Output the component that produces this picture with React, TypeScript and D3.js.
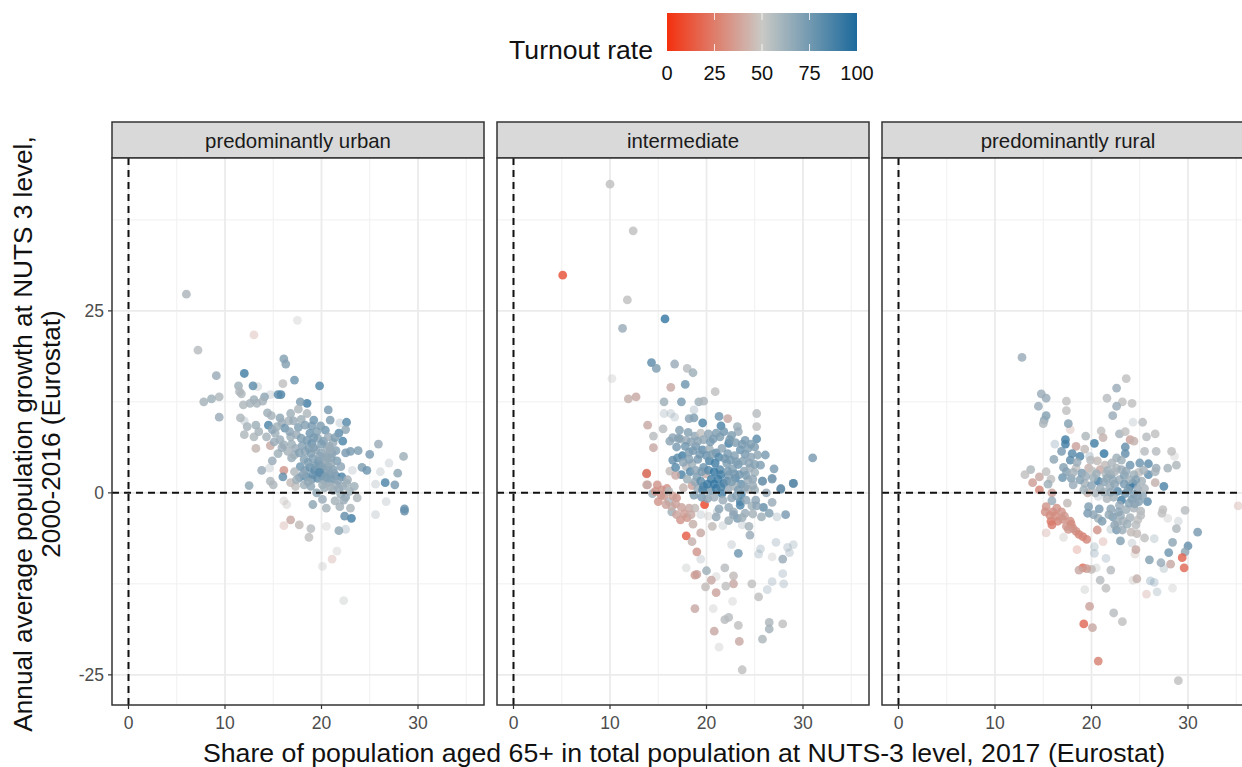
import React from "react";
import * as d3 from "d3";

type P = [number, number, number];

const panelNames = ["predominantly urban", "intermediate", "predominantly rural"];
const xTicks = [0, 10, 20, 30];
const xMinor = [5, 15, 25, 35];
const yTicks = [-25, 0, 25];
const yMinor = [-12.5, 12.5, 37.5];
const legendTicks = [0, 25, 50, 75, 100];

const urbanSolid: P[] = [
  [6, 27.3, 56], [7.2, 19.6, 52], [9.1, 16.1, 62], [12, 16.4, 88], [16.1, 18.4, 68], [16.3, 17.7, 68], [17.2, 15.5, 75], [19.8, 14.7, 85],
  [12.9, 14.7, 80], [11.4, 14.7, 60], [16, 15, 50], [11.7, 13.6, 55], [11.5, 13.9, 55], [9.4, 13.2, 55], [8.6, 12.9, 60], [7.8, 12.5, 58],
  [14.1, 13.2, 65], [15.8, 13.5, 85], [15.5, 13.5, 82], [13, 12.8, 60], [12.6, 12.3, 58], [11.9, 12.1, 55], [13.3, 12.3, 58], [18.5, 12.3, 88],
  [17.8, 12.5, 70], [17.6, 11.5, 55], [18.5, 10.9, 55], [16.8, 10.9, 60], [20.7, 11.4, 72], [14.4, 11, 60], [9.4, 10.4, 62], [11.6, 10.3, 55],
  [19.2, 10, 75], [20.9, 10, 70], [22.6, 9.7, 82], [22.5, 8.7, 65], [13.2, 9.3, 60], [14.5, 9.3, 85], [15.7, 10.3, 65], [15.9, 9.6, 62],
  [17.6, 9, 70], [16.2, 8.9, 75], [12, 8, 55], [13, 7.7, 55], [13.5, 8.4, 58], [14.3, 7.7, 58], [15.2, 8.2, 60], [15.7, 7.3, 62], [16.8, 7.7, 60],
  [16.1, 6.6, 60], [13.2, 6.1, 46], [14.7, 6.5, 42], [21.8, 8.2, 80], [22.2, 7.1, 85], [20.4, 8.6, 75], [18.8, 8.2, 75], [19.5, 8.4, 68],
  [25.9, 6.7, 62], [23.8, 5.8, 70], [23, 5.7, 72], [22.5, 5.5, 72], [25, 5.3, 72], [28.5, 5, 60], [24.2, 3.5, 70], [24.7, 3.1, 75], [27.9, 2.7, 65],
  [26.6, 1.4, 85], [27.6, 1.1, 72], [23.4, 0.9, 60], [23.7, -0.7, 55], [28.6, -2.2, 78], [28.6, -2.5, 78], [23.1, -3.5, 88], [22.4, -3.2, 78],
  [23, -2.1, 55], [21.8, -5.2, 65], [18.9, -4.9, 52], [17.7, -4.4, 48], [16.8, -3.7, 42], [18.7, -6.1, 50], [19.1, -1.6, 65], [20.5, -2.1, 58],
  [21.9, -1.9, 58], [12.5, 1, 65], [13.8, 3.1, 62], [14.7, 1.6, 55], [15, 1.1, 55], [14.9, 4.4, 62], [15.5, 5.4, 60], [16.9, 4.8, 62], [16.1, 3.1, 35],
  [16, 2.2, 78], [17.3, 0.9, 50], [19.5, 0, 65], [17.2, 5.2, 60], [18, 6.5, 68], [18.5, 7.2, 72], [19, 6.8, 76], [19.6, 7.5, 66], [20.2, 7.1, 70],
  [20.8, 6.4, 65], [21.2, 6.9, 62], [21.5, 5.8, 68], [18.3, 5.7, 66], [18.9, 5.4, 70], [19.4, 5.9, 64], [20, 5.5, 66], [20.5, 5.1, 62], [21, 4.8, 66],
  [21.6, 4.4, 70], [22, 3.6, 66], [19.1, 4.7, 68], [19.7, 4.4, 72], [20.3, 4.1, 66], [20.7, 3.6, 62], [21.2, 3.2, 68], [17.8, 3.6, 75], [18.3, 3.1, 70],
  [18.8, 3.5, 76], [19.3, 3.1, 80], [19.9, 3.2, 70], [20.4, 2.8, 66], [20.9, 2.5, 74], [21.5, 2.3, 82], [22.1, 2.2, 85], [17.7, 2.1, 78], [18.4, 2.2, 80],
  [19, 1.9, 72], [19.6, 2, 78], [20.2, 1.8, 66], [20.8, 1.4, 68], [21.5, 1.1, 60], [22.2, 0.9, 62], [18.2, 1.1, 60], [18.9, 0.9, 65], [20.3, 0.7, 60],
  [21.2, 0.3, 62], [22, -0.2, 60], [22.5, -0.6, 66], [21.4, -1.1, 58], [20.1, -0.9, 62], [19.7, 3.9, 70], [20, 2.4, 72], [17.2, 2.9, 55], [16.8, 1.4, 48],
  [21.1, 5.4, 66], [20.6, 6.1, 60], [17.3, 6.1, 62], [16.5, 5.7, 58], [22.7, 1.8, 58], [22.9, 0.2, 60], [22.3, -1, 62],
  [13.9, 12.6, 58], [14.8, 10.6, 58], [12.3, 9.1, 58], [14.9, 8.7, 66], [15.4, 9.1, 60], [16.6, 9.9, 58], [17.1, 9.9, 62], [17.9, 10.1, 60], [18.3, 9.3, 68],
  [19, 9.2, 72], [19.9, 9.2, 70], [16.7, 8.4, 66], [17.4, 8, 62], [17.9, 7.5, 70], [18.7, 6.1, 70], [19.2, 7.6, 72], [20, 6.7, 70], [20.7, 7.7, 62], [21.4, 7.6, 70],
  [15.1, 7, 62], [15.9, 6.2, 62], [16.9, 6.7, 60], [17.7, 5.5, 68], [18.2, 4.6, 68], [18.6, 4.2, 70], [19.4, 3.7, 72], [20.1, 3.5, 68], [20.5, 4.6, 62], [21, 4, 64],
  [20.6, 3.1, 66], [21.3, 2.7, 66], [19.1, 2.5, 78], [19.8, 2.8, 82], [20.4, 2.2, 70], [21, 1.9, 70], [21.7, 1.7, 66], [20.6, 4.9, 64], [19.8, 5, 66], [20.9, 5.9, 62],
  [19.2, 6.2, 68], [18.1, 2.6, 66], [17.4, 1.8, 60], [18.6, 1.5, 64], [20.1, 1.1, 60], [20.9, 0.9, 58], [21.8, 0.6, 62], [22.6, 1.3, 60],
];
const urbanFaint: P[] = [
  [17.5, 23.7, 50], [13, 21.7, 38], [13.4, 14.6, 55], [14.7, 13.5, 55], [12, 9.9, 62], [21.9, 9.6, 60], [27, 4.1, 55], [26.1, 2.9, 55], [25.6, 1.2, 58],
  [26.7, -1.2, 56], [25.6, -3, 58], [22.5, -5, 65], [20.5, -4.6, 50], [16.1, -4.5, 38], [21.6, -8, 50], [21.1, -9.1, 38], [20.1, -10.1, 50], [22.3, -14.8, 52],
  [16.1, -1.1, 48], [16.4, -1.6, 48], [23.2, 3.1, 55], [14.6, 3.4, 56],
];

const midSolid: P[] = [
  [10, 42.4, 50], [12.4, 36, 50], [5.1, 29.9, 12], [11.8, 26.5, 50], [15.7, 23.9, 92], [11.3, 22.6, 62], [14.3, 17.9, 80], [14.8, 17.1, 70], [16.7, 17.7, 62],
  [18, 17.1, 52], [18.6, 16.5, 60], [17.8, 14.9, 75], [16.3, 14.5, 42], [20.9, 13.9, 50], [11.9, 12.9, 44], [12.7, 13.2, 42], [15.6, 12.5, 60], [17.4, 12.5, 72],
  [19.2, 12.5, 60], [19.7, 12.6, 56], [25.2, 10.9, 52], [25.2, 9.1, 50], [22.2, 10.2, 42], [23.2, 9.1, 60], [23.3, 8.4, 62], [21.3, 10.5, 75], [21.5, 9.2, 85],
  [19.6, 9.6, 85], [18.7, 10.3, 70], [18.2, 10.2, 66], [13.9, 9.3, 42], [15.5, 8.8, 52], [14.5, 7.8, 52], [14.5, 6.2, 42], [13.8, 2.7, 25], [13.9, 1.1, 42],
  [31, 4.8, 72], [26.1, 5.2, 72], [27, 3.3, 72], [26.8, 2, 72], [29, 1.3, 80], [27.7, 0.6, 72], [25.8, 1.6, 75], [25.2, 7.4, 80], [22.3, 6.8, 88], [23.5, 5.9, 75],
  [17.2, 8.6, 68], [17.9, 7.2, 62], [18.8, 7.8, 64], [19.4, 8.2, 50], [20.2, 8.1, 66], [20.7, 7.4, 72], [21.4, 7.7, 70], [22.6, 7.9, 70], [24, 7.2, 72], [24.6, 6.7, 70],
  [16.2, 7.1, 66], [16.9, 6.3, 72], [17.5, 5.1, 88], [16.5, 4.5, 78], [17, 4.8, 80], [18.2, 5.6, 70], [18.9, 6.4, 72], [19.6, 5.9, 80], [20.3, 6, 60], [21, 5.5, 78],
  [21.6, 6.1, 66], [22.2, 5.4, 72], [22.9, 5.1, 68], [24, 5.3, 72], [24.6, 4.9, 66], [25.3, 5.2, 65], [17.9, 3.6, 52], [18.5, 4, 60], [19.1, 4.6, 72], [19.7, 3.5, 75],
  [20.3, 4.4, 85], [20.9, 4.1, 88], [21.4, 3.2, 82], [22.1, 4.1, 70], [22.7, 3.3, 68], [23.3, 3.9, 74], [23.9, 3, 66], [24.5, 3.4, 62], [25, 2.8, 60], [17.4, 2.5, 86],
  [18.3, 2.9, 82], [19, 2.2, 70], [19.9, 2.6, 45], [20.5, 1.9, 88], [21.2, 1.9, 90], [21.8, 1.3, 90], [22.3, 2.4, 70], [23, 2, 84], [23.6, 1.2, 78], [24.3, 1.8, 62],
  [16.2, 3, 48], [16.8, 2.4, 42], [17.6, 0.7, 46], [18.5, 1, 40], [19.1, 0.6, 62], [19.7, 0.9, 85], [20.4, 0.3, 72], [21, 0.6, 90], [21.6, -0.1, 88], [22.2, 0.5, 62],
  [22.9, 0.9, 58], [23.6, -0.2, 85], [24.3, 0.5, 55], [25, 0.4, 60], [18.7, -0.3, 70], [19.6, 0.4, 85], [25.9, -2, 78], [28.2, -3, 72], [23.2, -3.5, 72], [22.3, -3.8, 60],
  [24.5, -5.8, 62], [24.4, -4.6, 58], [23.5, -1.2, 85], [23.5, -1.7, 85], [26.5, -2.8, 68], [25.7, -3.3, 60], [26.8, -1.3, 62], [26.2, 0, 62], [25.8, 1.6, 72], [26.8, 1.9, 72],
  [27.7, 0.5, 78], [29, 1.3, 80], [24.7, -1.8, 60], [22.3, -2, 64], [21.7, -1, 62], [22.8, -2.6, 60], [24, -2.8, 62], [25.1, -1, 66],
  [13.8, 2.6, 25], [13.8, 1.1, 42], [14.9, 1.1, 35], [15.4, 0.4, 35], [14.4, -0.1, 60], [15, -1.2, 35], [16.1, -1.2, 55], [16.9, -0.7, 35], [16.4, -2.6, 60], [17.3, -3.7, 35],
  [15.6, -0.4, 38], [16.4, -1.9, 44], [18.2, -2.1, 42], [18.8, -2.1, 48], [19.8, -1.6, 8], [17.9, -5.9, 15], [18.5, -6.7, 45], [19, -8.1, 35], [19.4, -5.5, 42], [20.6, -4.6, 48],
  [23.3, -8.3, 75], [27.9, -9.1, 62], [19, -11.2, 40], [18.8, -11.3, 38], [20, -10.7, 60], [21.9, -10.3, 52], [22.8, -11.4, 48], [22.8, -12.5, 42], [22, -12.8, 50],
  [20.5, -12, 42], [19.9, -12.9, 48], [21, -13.7, 40], [24.7, -12.5, 50], [25.4, -14.3, 50], [18.8, -15.9, 42], [21.9, -17.4, 52], [22.3, -17.1, 52], [23.3, -18.2, 50],
  [26.5, -17.8, 55], [26.5, -18.7, 58], [27.9, -18, 50], [20.8, -19, 42], [25.8, -20.1, 55], [23.4, -20.4, 42], [23.7, -24.3, 50],
  [16.5, 7.6, 66], [17.3, 7.4, 62], [18.1, 8.3, 68], [18.4, 7, 66], [19.1, 7.1, 66], [19.7, 7.3, 64], [20.4, 7, 72], [21, 8.2, 70], [21.8, 8.4, 74], [22.4, 7.3, 72], [23, 6.9, 70],
  [23.7, 6.7, 72], [24.3, 6.1, 70], [25, 6.3, 70], [17.1, 7.5, 68], [17.8, 6.4, 74], [18.6, 5.8, 72], [19.3, 5.3, 74], [20, 5.1, 76], [20.6, 5.3, 70], [21.3, 4.9, 82], [21.9, 4.7, 74],
  [22.5, 4.5, 72], [23.1, 4.3, 70], [23.8, 4.4, 68], [24.4, 4.1, 66], [25, 3.9, 68], [25.6, 3.8, 70], [16.8, 3.5, 82], [17.6, 4.2, 66], [18.2, 4.6, 68], [18.9, 3.1, 66], [19.5, 2.9, 72],
  [20.2, 3.1, 82], [20.8, 2.9, 92], [21.5, 2.5, 88], [22.2, 3, 72], [22.9, 2.6, 72], [23.4, 2.5, 74], [24.1, 2.4, 70], [24.8, 1.9, 64], [18, 1.9, 60], [18.8, 1.5, 64], [19.4, 1.6, 80],
  [20.1, 1.2, 90], [20.8, 1.2, 92], [21.5, 0.8, 86], [22.1, 1.6, 78], [22.6, 1.5, 70], [23.3, 0.4, 70], [24, 0.8, 66], [24.8, 1, 62], [19.5, -0.6, 72], [20.1, -0.8, 66], [20.8, -0.6, 62],
  [22.6, -0.7, 66], [23.1, -0.4, 68], [24.1, -1, 66], [25.2, -1.8, 66], [21.3, -2.2, 66], [21, -3.3, 64], [22.8, -3, 66], [23.7, -3.4, 60], [24.8, -2.9, 58], [15.9, 0.6, 34], [14.7, 0.2, 34],
  [15.3, -0.3, 36], [16.1, 0.2, 52], [16.5, -0.4, 38], [15.8, -1.6, 40], [16.8, -1.5, 40], [17.4, -2, 40], [17.7, -2.9, 38], [18, -3.4, 36], [18.4, -3, 42], [18.6, -4.3, 44], [16.9, -3, 40],
];
const midFaint: P[] = [
  [10.2, 15.7, 50], [15.6, 10.9, 60], [16.3, 10.9, 60], [16.7, 10.4, 60], [18.7, 11.4, 65], [19.4, -3, 55], [20.2, -3.2, 50], [21.7, -4.5, 55], [22.6, -7.1, 58],
  [25.6, -7.7, 65], [25.4, -8.4, 65], [26.8, -8.8, 50], [27.2, -6.8, 65], [29, -7.1, 62], [28.4, -7.5, 64], [28.6, -8.2, 64], [17.9, -10.3, 52], [19.4, -9.1, 56],
  [21, -11.5, 50], [26.3, -13.3, 65], [26.8, -12.2, 65], [28, -12.5, 65], [27.9, -11.1, 65], [22.7, -14.9, 50], [20.7, -15.9, 50], [21.3, -21.2, 50], [27.3, -3.3, 62],
  [23.7, -4.4, 56], [21.1, -2.6, 62],
];

const ruralSolid: P[] = [
  [12.8, 18.6, 62], [23.6, 15.7, 50], [22.6, 14.4, 62], [14.8, 13.6, 62], [15.3, 13, 62], [14.5, 11.9, 62], [17.4, 12.6, 50], [17.4, 11.3, 50], [21.6, 13, 52], [23.2, 12.5, 50],
  [24.2, 12.3, 50], [22.6, 11.9, 62], [22.2, 10.6, 62], [15.3, 10.6, 68], [15.1, 10, 65], [15, 9.5, 55], [17.6, 9.5, 68], [25.3, 9.7, 52], [21, 8.5, 50], [21.2, 7.6, 45],
  [22.9, 8.1, 58], [23.5, 8.4, 50], [25.7, 7.7, 52], [26.6, 8.1, 50], [19.4, 7.8, 55], [17.3, 7.3, 88], [17.3, 6.7, 88], [20.3, 6.8, 88], [18.4, 6.4, 40], [19.3, 6, 48],
  [16.9, 5.7, 72], [18, 5.4, 82], [18.8, 5, 85], [21.3, 5.4, 92], [23.5, 6.3, 78], [23.5, 5.4, 78], [24, 7.3, 40], [24.4, 7.1, 45], [25.5, 5.7, 52], [26.7, 5.7, 52], [28.3, 5.7, 50],
  [16.1, 4.6, 65], [28.8, 3.8, 55], [27.9, 3.4, 58], [25.9, 4, 80], [25, 4.1, 75], [26.7, 3.4, 62], [24, 3.8, 75], [22.6, 4.8, 60], [22.6, 3.4, 55], [19.7, 3.4, 45], [20.9, 3.2, 42],
  [21.4, 3.8, 48], [13.7, 3.2, 55], [13.1, 2.5, 50], [15.3, 2.9, 50], [14.6, 2.2, 42], [13.9, 1.4, 38], [15.8, 1.9, 50], [15.5, 1.2, 60], [14.6, 0.4, 30], [15.9, 0, 40],
  [17, 2.1, 75], [17.4, 2.9, 68], [17.9, 2, 68], [18.4, 3.4, 50], [19, 2.7, 72], [19.3, 1.3, 58], [20.7, 1.6, 88], [22, 2.5, 70], [22.9, 1.8, 62], [25.9, 2.5, 80], [26.6, 2.9, 58],
  [26.6, 1.4, 45], [27.5, 0.9, 85], [24.3, 1.3, 92], [24, 0.9, 88], [22.7, 0.2, 82], [19.6, 0, 45], [23.1, -1, 90], [24.2, -0.9, 72], [24.9, -1.2, 68], [25.8, -1.2, 80], [15.9, -1.1, 62],
  [17.5, -1.4, 48], [15.3, -1.9, 35], [16, -2.6, 32], [16.9, -2.6, 35], [15.8, -3.9, 25], [16.5, -3.9, 30], [17.8, -3.9, 33], [18.1, -4.9, 33], [17.4, -4.6, 35], [19.1, -6, 28], [19.5, -6.4, 30],
  [16.4, -2.1, 34], [17.2, -3.2, 36], [17.9, -4.3, 32], [18.4, -5.3, 34], [20.6, -5.1, 35], [19.7, -1.9, 70], [19.6, -2.8, 72], [20.8, -2.2, 72], [20.7, -3.5, 60], [21.1, -3.9, 70], [22.2, -3.3, 72],
  [22.6, -5.1, 72], [23, -6.6, 68], [23.3, -3.9, 58], [24.1, -5.4, 48], [25.5, -6.2, 50], [24.6, -7.8, 42], [27.4, -2.3, 50], [27.3, -2.8, 50], [29.7, -2.4, 52], [28.8, -4.9, 55], [31, -5.4, 72],
  [28.4, -6.8, 65], [30, -7.3, 78], [29.7, -8.1, 65], [28, -8.2, 75], [29.4, -8.9, 18], [29.6, -10.3, 20], [26, -9.2, 68], [27.2, -9.6, 62], [28.2, -9.8, 42], [22, -10.6, 52], [19.1, -10.3, 22],
  [18.7, -10.6, 42], [20, -10.5, 48], [19.5, -10.4, 38], [20.9, -12, 52], [21.5, -13.1, 50], [24.7, -11.8, 45], [19.8, -15.6, 40], [22.3, -16.5, 52], [23.2, -17.7, 50], [19.2, -18, 20],
  [20.1, -18.5, 42], [20.7, -23.1, 28], [29, -25.8, 50], [21.3, 1.5, 66], [21.9, 0.9, 62], [22.4, 1.2, 66], [23.4, 2.4, 70], [23.9, 1.8, 60], [24.8, 0.6, 62], [25.2, 1.6, 58], [23.5, -0.1, 76],
  [24.4, -0.2, 70], [25.3, -0.4, 66], [22.3, -0.6, 60], [21.6, -0.8, 56], [22.9, -1.7, 62], [23.6, -2.3, 60], [24.4, -2.1, 56], [25.1, -2.5, 54], [22, -2.2, 66], [23, -3.1, 62], [24, -3.4, 58],
  [24.8, -3.7, 50], [22.7, -4.1, 60], [18.8, 1.8, 68], [18.1, 1.1, 62], [20.2, 2.1, 60], [20.9, 0.6, 62], [21.5, 2.6, 55], [24.9, 2.8, 50], [23.1, 3.2, 62],
  [17.8, 4.5, 80], [18.5, 4.2, 62], [19.9, 4.5, 52], [20.6, 4.4, 48], [22.1, 4.1, 56], [23.1, 4.5, 60], [17.1, 3.5, 68], [18.1, 2.8, 58], [19.4, 2.3, 62], [20.1, 3, 50], [20.5, 2.6, 60],
  [21.7, 3.1, 60], [22.4, 2.9, 56], [23.6, 3, 64], [24.4, 2.5, 60], [25.4, 3.1, 58], [24.6, 1.8, 68], [23.4, 1.2, 72], [22.2, 1.8, 64], [21.6, 2, 64], [20, 1, 66], [19.2, 0.4, 60],
  [20.4, 0, 56], [21.3, 0.1, 60], [22, 0.1, 64], [23.8, 0.4, 70], [24.8, -0.4, 66], [25.5, 0.6, 56], [22.8, -2.6, 66], [23.9, -1.4, 68], [24.5, -1.5, 66], [21.8, -3, 64],
  [22.4, -4.4, 64], [23.7, -4.3, 60], [24.6, -4.4, 52], [25.1, -3.1, 52], [23.2, -5.1, 62], [24.7, -5.6, 48], [15.2, -2.6, 34], [15.7, -3.1, 32], [16.3, -3.2, 32], [17, -3.6, 34], [17.6, -5, 36],
  [18.7, -5.7, 30], [20.2, -3, 66], [15.9, -4.4, 26],
];
const ruralFaint: P[] = [
  [17.8, 8.7, 40], [24.3, 9.7, 55], [16.2, 6.7, 68], [19.8, 5, 68], [28.6, 5, 50], [20.7, -0.5, 60], [18.5, -7.8, 30], [15.3, -5.5, 38], [17.1, -6.1, 48], [21.2, -6.7, 36],
  [22, -5, 62], [26.5, -6.3, 62], [24.2, -6.9, 58], [24.5, -8.4, 45], [27.9, -3.5, 50], [29, -3.9, 55], [27.5, -10.4, 62], [20.3, -8.3, 68], [20.3, -7.4, 62], [21.5, -9, 64],
  [19.3, -13.3, 52], [24.3, -12, 48], [26.1, -12.1, 72], [26.5, -12.3, 68], [28.4, -13.1, 50], [26.8, -13.6, 62], [25.7, -13.9, 38], [35.2, -1.8, 38], [20.5, -10.3, 52],
];

const colorScale = d3.scaleLinear<string>().domain([0, 50, 100]).range(["#f4300f", "#bfbfbf", "#1c6a9c"]);
const legendScaleColor = d3.scaleLinear<string>().domain([0, 50, 100]).range(["#f4300f", "#c9c9c5", "#1c6a9c"]);

const panelLefts = [112, 497, 882];
const panelW = 372;
const stripTop = 122;
const panelTop = 158;
const panelBottom = 705;
const fontFamily = "'Liberation Sans', Arial, sans-serif";

const yScale = d3.scaleLinear().domain([46, -29.14]).range([panelTop, panelBottom]);
const legendScale = d3.scaleLinear().domain([0, 100]).range([667, 857]);

const panelData: [P[], P[]][] = [
  [urbanSolid, urbanFaint],
  [midSolid, midFaint],
  [ruralSolid, ruralFaint],
];

export default function App() {
  return (
    <svg width={1242} height={767} style={{ position: "absolute", left: 0, top: 0, background: "#fff" }} fontFamily={fontFamily}>
      <defs>
        <linearGradient id="turnout" x1="0" x2="1" y1="0" y2="0">
          {d3.range(0, 101, 10).map((t) => (
            <stop key={t} offset={`${t}%`} stopColor={legendScaleColor(t)} />
          ))}
        </linearGradient>
        {panelLefts.map((l, i) => (
          <clipPath id={`clip${i}`} key={i}>
            <rect x={l} y={panelTop} width={panelW} height={panelBottom - panelTop} />
          </clipPath>
        ))}
      </defs>

      <text x={653} y={59} fontSize={26.6} textAnchor="end" fill="#111">Turnout rate</text>
      <rect x={legendScale(0)} y={13} width={legendScale(100) - legendScale(0)} height={38} fill="url(#turnout)" />
      {legendTicks.map((t) => (
        <g key={t}>
          {t > 0 && t < 100 && (
            <>
              <line x1={legendScale(t)} x2={legendScale(t)} y1={13} y2={20} stroke="#fff" strokeWidth={0.8} />
              <line x1={legendScale(t)} x2={legendScale(t)} y1={44} y2={51} stroke="#fff" strokeWidth={0.8} />
            </>
          )}
          <text x={legendScale(t)} y={80} fontSize={20} textAnchor="middle" fill="#111">{t}</text>
        </g>
      ))}

      {panelLefts.map((left, i) => {
        const x = d3.scaleLinear().domain([-1.71, 36.84]).range([left, left + panelW]);
        const [solid, faint] = panelData[i];
        return (
          <g key={i}>
            <rect x={left} y={stripTop} width={panelW} height={panelTop - stripTop} fill="#d9d9d9" stroke="#333" strokeWidth={1.5} />
            <text x={left + panelW / 2} y={148} fontSize={20.4} textAnchor="middle" fill="#1a1a1a">{panelNames[i]}</text>
            <rect x={left} y={panelTop} width={panelW} height={panelBottom - panelTop} fill="#fff" />
            <g clipPath={`url(#clip${i})`}>
              {xMinor.map((t) => <line key={t} x1={x(t)} x2={x(t)} y1={panelTop} y2={panelBottom} stroke="#f0f0f0" strokeWidth={1} />)}
              {yMinor.map((t) => <line key={t} x1={left} x2={left + panelW} y1={yScale(t)} y2={yScale(t)} stroke="#f0f0f0" strokeWidth={1} />)}
              {xTicks.map((t) => <line key={t} x1={x(t)} x2={x(t)} y1={panelTop} y2={panelBottom} stroke="#ebebeb" strokeWidth={1.8} />)}
              {yTicks.map((t) => <line key={t} x1={left} x2={left + panelW} y1={yScale(t)} y2={yScale(t)} stroke="#ebebeb" strokeWidth={1.8} />)}
              {faint.map((d, j) => (
                <circle key={j} cx={x(d[0])} cy={yScale(d[1])} r={4.4} fill={colorScale(d[2])} opacity={0.35} />
              ))}
              {solid.map((d, j) => (
                <circle key={j} cx={x(d[0])} cy={yScale(d[1])} r={4.4} fill={colorScale(d[2])} opacity={0.82} />
              ))}
              <line x1={x(0)} x2={x(0)} y1={panelTop} y2={panelBottom} stroke="#111" strokeWidth={2} strokeDasharray="7 5" />
              <line x1={left} x2={left + panelW} y1={yScale(0)} y2={yScale(0)} stroke="#111" strokeWidth={2} strokeDasharray="7 5" />
            </g>
            <rect x={left} y={panelTop} width={panelW} height={panelBottom - panelTop} fill="none" stroke="#333" strokeWidth={1.5} />
            {xTicks.map((t) => (
              <g key={t}>
                <line x1={x(t)} x2={x(t)} y1={panelBottom} y2={panelBottom + 4} stroke="#333" strokeWidth={1.2} />
                <text x={x(t)} y={729} fontSize={17.5} textAnchor="middle" fill="#4d4d4d">{t}</text>
              </g>
            ))}
          </g>
        );
      })}

      {yTicks.map((t) => (
        <g key={t}>
          <line x1={108} x2={112} y1={yScale(t)} y2={yScale(t)} stroke="#333" strokeWidth={1.2} />
          <text x={104} y={yScale(t) + 6.5} fontSize={17.5} textAnchor="end" fill="#4d4d4d">{t}</text>
        </g>
      ))}

      <text transform="translate(32,434) rotate(-90)" fontSize={26.2} textAnchor="middle" fill="#111">Annual average population growth at NUTS 3 level,</text>
      <text transform="translate(60,434) rotate(-90)" fontSize={26.2} textAnchor="middle" fill="#111">2000-2016 (Eurostat)</text>
      <text x={684} y={762} fontSize={26.7} textAnchor="middle" fill="#111">Share of population aged 65+ in total population at NUTS-3 level, 2017 (Eurostat)</text>
    </svg>
  );
}
